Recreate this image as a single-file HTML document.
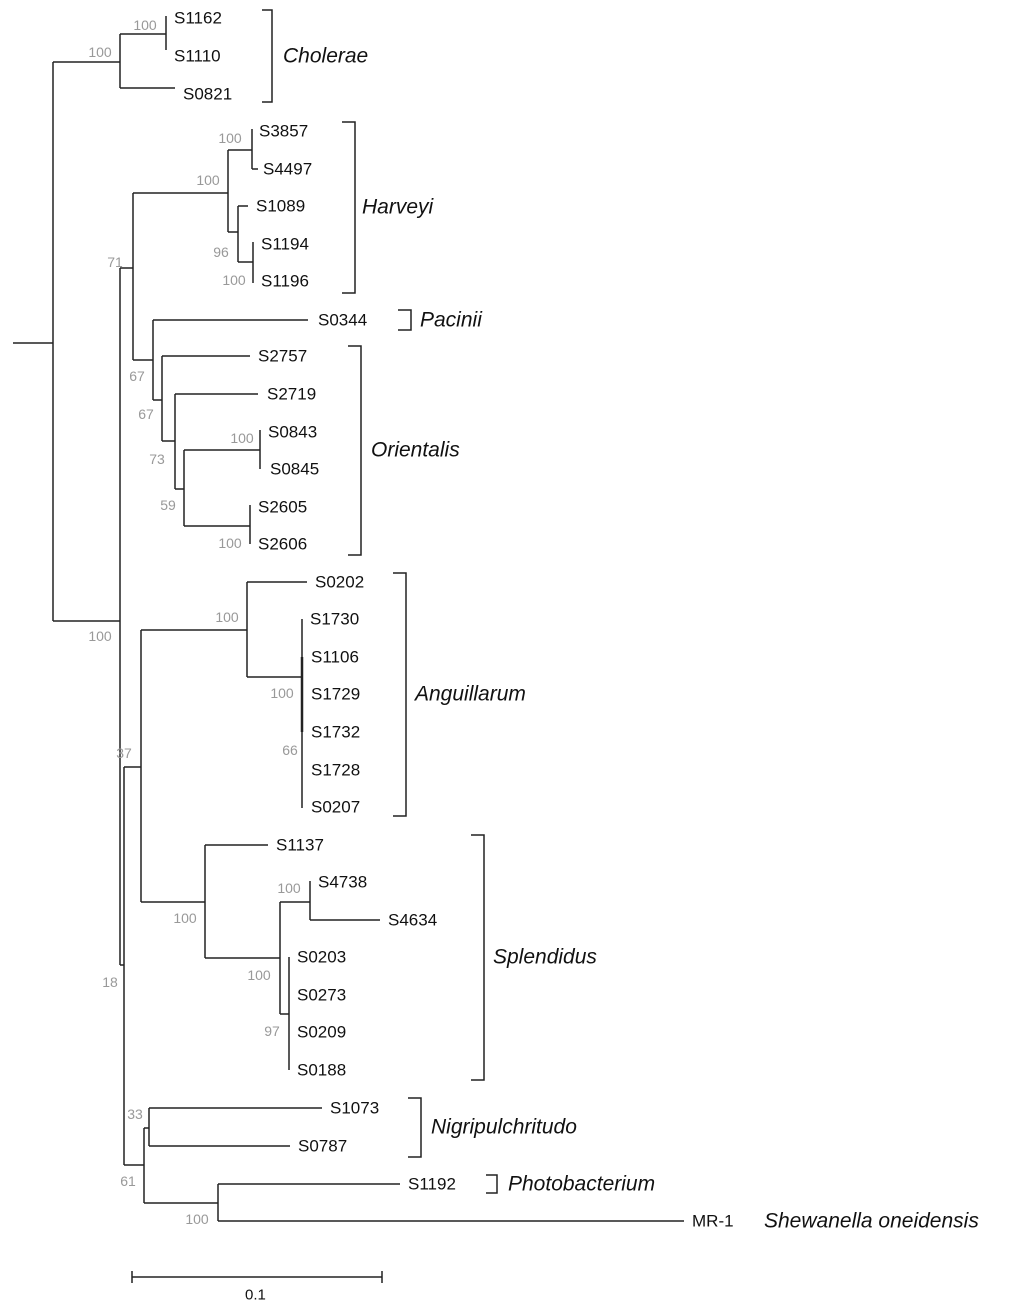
<!DOCTYPE html>
<html><head><meta charset="utf-8"><style>
html,body{margin:0;padding:0;background:#fff}
svg{display:block}
.l{font-family:"Liberation Sans",Arial,sans-serif;font-size:17px;fill:#111;dominant-baseline:central}
.b{font-family:"Liberation Sans",Arial,sans-serif;font-size:14px;fill:#999;text-anchor:middle;dominant-baseline:central}
.c{font-family:"Liberation Sans",Arial,sans-serif;font-size:21px;font-style:italic;fill:#111;dominant-baseline:central}
</style></head><body>
<svg width="1024" height="1313" viewBox="0 0 1024 1313" xmlns="http://www.w3.org/2000/svg">
<g stroke="#222" stroke-width="1.5" fill="none">
<!-- root -->
<path d="M13 343H53M53 62V621"/>
<!-- Cholerae -->
<path d="M53 62H120M120 34V88M120 34H166M166 16V50M120 88H175"/>
<!-- big clade -->
<path d="M53 621H120M120 268V965M120 268H133M133 193V360"/>
<!-- Harveyi -->
<path d="M133 193H228M228 150V232M228 150H252M252 129V169M252 169H258M228 232H238M238 206V262M238 206H248M238 262H253M253 242V283"/>
<!-- Pacinii/Orientalis -->
<path d="M133 360H153M153 320V400M153 320H308M153 400H162M162 356V441M162 356H250M162 441H175M175 394V489M175 394H258M175 489H184M184 450V526M184 450H260M260 430V469M184 526H250M250 505V544"/>
<!-- lower -->
<path d="M120 965H124M124 767V1165M124 767H141M141 630V902"/>
<!-- Anguillarum -->
<path d="M141 630H247M247 582V677M247 582H307M247 677H302M302 619V808"/>
<path d="M302 657V732" stroke-width="2.5"/>
<!-- Splendidus -->
<path d="M141 902H205M205 845V958M205 845H268M205 958H280M280 902V1014M280 902H310M310 881V920M310 920H380M280 1014H289M289 957V1070"/>
<!-- Nigri etc -->
<path d="M124 1165H144M144 1128V1203M144 1128H149M149 1108V1146M149 1108H322M149 1146H290M144 1203H218M218 1184V1221M218 1184H400M218 1221H684"/>
<!-- brackets -->
<path d="M262 10H272V102H262"/>
<path d="M342 122H355V293H342"/>
<path d="M398 310H411V330H398"/>
<path d="M348 346H361V555H348"/>
<path d="M393 573H406V816H393"/>
<path d="M471 835H484V1080H471"/>
<path d="M408 1098H421V1157H408"/>
<path d="M486 1175H497V1193H486"/>
<!-- scale -->
<path d="M132 1277H382M132 1271V1283M382 1271V1283"/>
</g>
<g class="l">
<text x="174" y="18">S1162</text><text x="174" y="56">S1110</text><text x="183" y="94">S0821</text>
<text x="259" y="131">S3857</text><text x="263" y="169">S4497</text><text x="256" y="206">S1089</text>
<text x="261" y="244">S1194</text><text x="261" y="281">S1196</text><text x="318" y="320">S0344</text>
<text x="258" y="356">S2757</text><text x="267" y="394">S2719</text><text x="268" y="432">S0843</text>
<text x="270" y="469">S0845</text><text x="258" y="507">S2605</text><text x="258" y="544">S2606</text>
<text x="315" y="582">S0202</text><text x="310" y="619">S1730</text><text x="311" y="657">S1106</text>
<text x="311" y="694">S1729</text><text x="311" y="732">S1732</text><text x="311" y="770">S1728</text>
<text x="311" y="807">S0207</text><text x="276" y="845">S1137</text><text x="318" y="882">S4738</text>
<text x="388" y="920">S4634</text><text x="297" y="957">S0203</text><text x="297" y="995">S0273</text>
<text x="297" y="1032">S0209</text><text x="297" y="1070">S0188</text><text x="330" y="1108">S1073</text>
<text x="298" y="1146">S0787</text><text x="408" y="1184">S1192</text><text x="692" y="1221">MR-1</text>
<text x="245" y="1295" style="font-size:15px">0.1</text>
</g>
<g class="c">
<text x="283" y="56">Cholerae</text><text x="362" y="207">Harveyi</text><text x="420" y="320">Pacinii</text>
<text x="371" y="450">Orientalis</text><text x="415" y="694">Anguillarum</text><text x="493" y="957">Splendidus</text>
<text x="431" y="1127">Nigripulchritudo</text><text x="508" y="1184">Photobacterium</text>
<text x="764" y="1221">Shewanella oneidensis</text>
</g>
<g class="b">
<text x="145" y="25">100</text><text x="100" y="52">100</text><text x="230" y="138">100</text>
<text x="208" y="180">100</text><text x="221" y="252">96</text><text x="234" y="280">100</text>
<text x="115" y="262">71</text><text x="137" y="376">67</text><text x="146" y="414">67</text>
<text x="157" y="459">73</text><text x="168" y="505">59</text><text x="242" y="438">100</text>
<text x="230" y="543">100</text><text x="100" y="636">100</text><text x="227" y="617">100</text>
<text x="282" y="693">100</text><text x="290" y="750">66</text><text x="124" y="753">37</text>
<text x="185" y="918">100</text><text x="289" y="888">100</text><text x="259" y="975">100</text>
<text x="272" y="1031">97</text><text x="110" y="982">18</text><text x="135" y="1114">33</text>
<text x="128" y="1181">61</text><text x="197" y="1219">100</text>
</g>
</svg>
</body></html>
